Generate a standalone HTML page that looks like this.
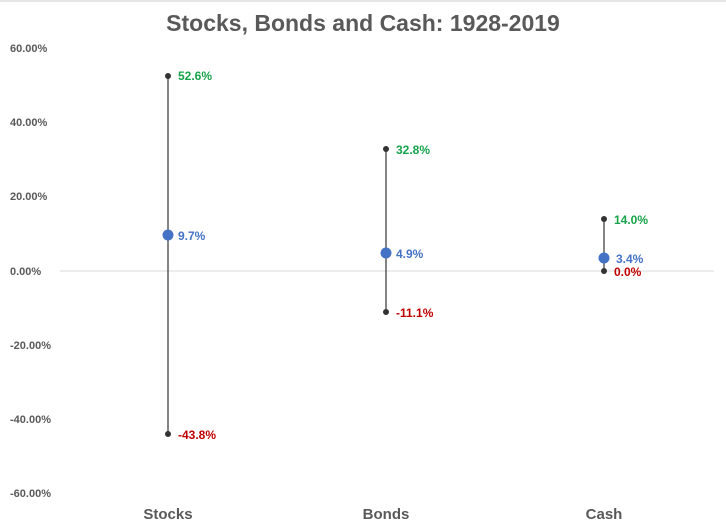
<!DOCTYPE html>
<html><head><style>
body{margin:0;background:#fff;}
svg{display:block;font-family:"Liberation Sans",Arial,sans-serif;}
</style></head><body>
<svg width="726" height="528" viewBox="0 0 726 528">
<rect x="0" y="0" width="726" height="2" fill="#e6e6e6"/>
<text x="363" y="31" text-anchor="middle" font-size="23" font-weight="bold" fill="#595959">Stocks, Bonds and Cash: 1928-2019</text>
<g font-size="11" font-weight="bold" fill="#595959">
<text x="10" y="52">60.00%</text>
<text x="10" y="126">40.00%</text>
<text x="10" y="200">20.00%</text>
<text x="10" y="275">0.00%</text>
<text x="10" y="349">-20.00%</text>
<text x="10" y="423">-40.00%</text>
<text x="10" y="497">-60.00%</text>
</g>
<line x1="60" y1="271" x2="714" y2="271" stroke="#d9d9d9" stroke-width="1"/>
<g stroke="#333" stroke-width="1.2">
<line x1="168" y1="76" x2="168" y2="434"/>
<line x1="386" y1="149" x2="386" y2="312"/>
<line x1="604" y1="219" x2="604" y2="271"/>
</g>
<g fill="#333">
<circle cx="168" cy="76" r="3"/><circle cx="168" cy="434" r="3"/>
<circle cx="386" cy="149" r="3"/><circle cx="386" cy="312" r="3"/>
<circle cx="604" cy="219" r="3"/><circle cx="604" cy="271" r="3"/>
</g>
<g fill="#4472c4">
<circle cx="168" cy="235" r="5.5"/><circle cx="386" cy="253" r="5.5"/><circle cx="604" cy="258" r="5.5"/>
</g>
<g font-size="12" font-weight="bold">
<text x="178" y="80" fill="#16a34a">52.6%</text>
<text x="178" y="240" fill="#4472c4">9.7%</text>
<text x="178" y="439" fill="#c00000">-43.8%</text>
<text x="396" y="154" fill="#16a34a">32.8%</text>
<text x="396" y="258" fill="#4472c4">4.9%</text>
<text x="396" y="317" fill="#c00000">-11.1%</text>
<text x="614" y="224" fill="#16a34a">14.0%</text>
<text x="616" y="263" fill="#4472c4">3.4%</text>
<text x="614" y="276" fill="#c00000">0.0%</text>
</g>
<g font-size="15" font-weight="bold" fill="#595959" text-anchor="middle">
<text x="168" y="519">Stocks</text>
<text x="386" y="519">Bonds</text>
<text x="604" y="519">Cash</text>
</g>
</svg>
</body></html>
